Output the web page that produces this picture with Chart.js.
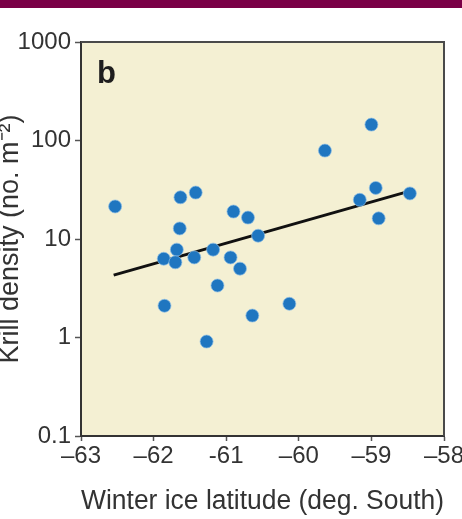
<!DOCTYPE html>
<html>
<head>
<meta charset="utf-8">
<script src="https://cdn.jsdelivr.net/npm/chart.js@4.4.1/dist/chart.umd.min.js"></script>
<style>
  html, body { margin: 0; padding: 0; background: #fff; }
  #wrap { position: relative; width: 462px; height: 519px; }
  #bar { position: absolute; left: 0; top: 0; width: 462px; height: 8px; background: #7a0046; }
</style>
</head>
<body>
<div id="wrap">
  <canvas id="chart" width="462" height="519"></canvas>
  <div id="bar"></div>
</div>
<script>
// data
const latitude = [-62.53, -61.63, -61.42, -61.64, -60.90, -60.70, -60.56, -61.68, -61.86, -61.70,
  -61.44, -61.18, -60.94, -60.81, -61.12, -61.85, -60.64, -61.27, -60.13, -59.64,
  -59.00, -58.94, -59.16, -58.47, -58.90];
const density = [21.4, 26.5, 29.6, 12.8, 19, 16.5, 10.8, 7.8, 6.3, 5.8,
  6.5, 7.8, 6.5, 5.0, 3.37, 2.1, 1.67, 0.91, 2.2, 79,
  145, 33, 25, 29, 16.2];

// regression line end points
const fitX = [-62.55, -58.45];
const fitY = [4.3, 31];

const xTicks = [-63, -62, -61, -60, -59, -58];
const xTickLabels = ['–63', '–62', '-61', '–60', '–59', '–58'];
const yTicks = [0.1, 1, 10, 100, 1000];
const yTickLabels = ['0.1', '1', '10', '100', '1000'];

const panelLabel = 'b';
const textColor = '#333';
const fontFamily = '"Liberation Sans", Arial, sans-serif';

const panelPlugin = {
  id: 'panel',
  beforeDraw(chart) {
    const { ctx, chartArea: a } = chart;
    ctx.save();
    ctx.fillStyle = '#f4f0d3';
    ctx.fillRect(a.left, a.top, a.right - a.left, a.bottom - a.top);
    ctx.restore();
  },
  afterDraw(chart) {
    const { ctx, chartArea: a } = chart;
    ctx.save();
    ctx.strokeStyle = '#4a4a4a';
    ctx.lineWidth = 2;
    ctx.beginPath();
    ctx.moveTo(a.left, a.top);
    ctx.lineTo(a.right, a.top);
    ctx.lineTo(a.right, a.bottom);
    ctx.stroke();
    ctx.fillStyle = '#1e1e1e';
    ctx.font = 'bold 31px ' + fontFamily;
    ctx.textBaseline = 'alphabetic';
    ctx.fillText(panelLabel, a.left + 16, a.top + 41);
    ctx.restore();
  }
};

const points = latitude.map((x, i) => ({ x: x, y: density[i] }));
const fitLine = fitX.map((x, i) => ({ x: x, y: fitY[i] }));

new Chart(document.getElementById('chart'), {
  type: 'scatter',
  data: {
    datasets: [
      {
        data: fitLine,
        showLine: true,
        borderColor: '#111',
        borderWidth: 3,
        pointRadius: 0,
        order: 2
      },
      {
        data: points,
        backgroundColor: '#1f76c0',
        borderColor: 'rgba(140,190,230,0.7)',
        borderWidth: 1,
        pointRadius: 6.5,
        order: 1
      }
    ]
  },
  options: {
    responsive: false,
    animation: false,
    layout: { padding: { left: 0, top: 42, right: 18, bottom: 0 } },
    plugins: { legend: { display: false }, tooltip: { enabled: false } },
    scales: {
      x: {
        type: 'linear',
        min: -63,
        max: -58,
        afterBuildTicks(scale) { scale.ticks = xTicks.map(v => ({ value: v })); },
        afterFit(scale) { scale.height = 83; scale.paddingLeft = 0; scale.paddingRight = 0; },
        ticks: {
          color: textColor,
          font: { family: fontFamily, size: 24 },
          padding: 1,
          maxRotation: 0,
          autoSkip: false,
          callback: (v) => xTickLabels[xTicks.indexOf(v)]
        },
        grid: { display: true, drawOnChartArea: false, tickLength: 5, color: '#555', tickWidth: 1.5 },
        border: { display: true, color: '#333', width: 2 },
        title: {
          display: true,
          text: 'Winter ice latitude (deg. South)',
          color: textColor,
          font: { family: fontFamily, size: 27 },
          padding: { top: 0, bottom: 1 }
        }
      },
      y: {
        type: 'logarithmic',
        min: 0.1,
        max: 1000,
        afterBuildTicks(scale) { scale.ticks = yTicks.map(v => ({ value: v })); },
        afterFit(scale) { scale.width = 81; scale.paddingTop = 0; scale.paddingBottom = 0; },
        ticks: {
          color: textColor,
          font: { family: fontFamily, size: 24 },
          padding: 4,
          autoSkip: false,
          callback: (v) => {
            const i = yTicks.indexOf(v);
            return i >= 0 ? yTickLabels[i] : '';
          }
        },
        grid: { display: true, drawOnChartArea: false, tickLength: 6, color: '#555', tickWidth: 1.5 },
        border: { display: true, color: '#333', width: 2 },
        title: {
          display: true,
          text: 'Krill density (no. m⁻²)',
          color: textColor,
          font: { family: fontFamily, size: 27, lineHeight: 0.75 },
          padding: { top: 0, bottom: 0 }
        }
      }
    }
  },
  plugins: [panelPlugin]
});
</script>
</body>
</html>
